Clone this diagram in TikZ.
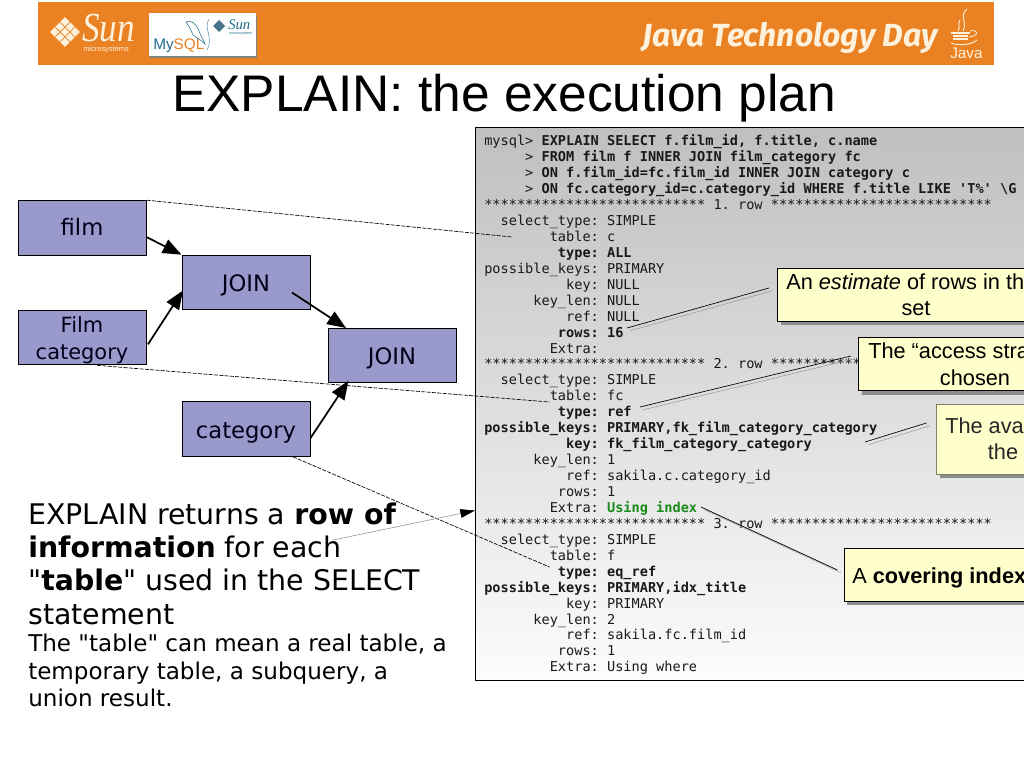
\documentclass[tikz,border=0pt]{standalone}
\usepackage{fontspec}
\setmainfont{DejaVu Sans}
\setmonofont{DejaVu Sans Mono}
\newfontfamily\arialfont{Liberation Sans}
\newfontfamily\timesfont{Liberation Serif}
\newfontfamily\bannerfont{Fira Sans}
\usetikzlibrary{arrows.meta,shadows}
\definecolor{bannerorange}{HTML}{EA8122}
\definecolor{bannercream}{HTML}{FDF1DC}
\definecolor{planblue}{HTML}{9999CC}
\definecolor{noteyellow}{HTML}{FFFFCC}
\definecolor{mysqlblue}{HTML}{1F6C8C}
\definecolor{usinggreen}{HTML}{1A8A1A}
\begin{document}
\begin{tikzpicture}[x=0.75pt, y=-0.75pt]
            \tikzstyle{plan box}=[rectangle,draw=black,fill=planblue,text=black!90!blue,line width=0.75pt,minimum width=96pt,minimum height=41pt,inner sep=0pt,font=\fontsize{17}{20}\selectfont,align=center,text height=13.5pt,text depth=0pt]
            \tikzstyle{plan arrow}=[line width=1.3pt,-{Triangle[length=14pt,width=11pt]}]
            \tikzstyle{map line}=[black,line width=0.5pt,dash pattern=on 3pt off 1pt]
            \tikzstyle{note box}=[rectangle,anchor=north west,draw=black,fill=noteyellow,line width=0.6pt,minimum width=225pt,inner sep=0pt,drop shadow={shadow xshift=2.6pt,shadow yshift=-3pt,fill=black!45,opacity=1}]
            \tikzstyle{note text}=[anchor=base west,inner sep=0pt,font=\arialfont\fontsize{16.3}{19}\selectfont]
            \tikzstyle{note line}=[black,line width=0.5pt,preaction={draw,black!40,transform canvas={xshift=2.6pt,yshift=-2pt}}]
            \tikzstyle{banner text}=[anchor=base west,inner sep=0pt,text=bannercream]

            \useasboundingbox (0,0) rectangle (1024,767);
            \clip (0,0) rectangle (1024,767);
            \fill[white] (0,0) rectangle (1024,767);

            % banner
            \fill[bannerorange] (38,2) rectangle (994,65);
            \begin{scope}[shift={(65,32)}, rotate=45]
                \fill[bannercream] (-10.5,-10.5) rectangle (10.5,10.5);
                \draw[bannerorange, line width=0.5pt] (-10.5,-3.5) -- (10.5,-3.5) (-10.5,3.5) -- (10.5,3.5) (-3.5,-10.5) -- (-3.5,10.5) (3.5,-10.5) -- (3.5,10.5);
            \end{scope}
            \node[banner text, font=\timesfont\itshape\fontsize{31}{31}\selectfont] (sunlogo) at (82,42) {\scalebox{0.85}[1]{Sun}};
            \node[banner text, font=\arialfont\fontsize{5.6}{7}\selectfont] (sunsmall) at (83,52) {microsystems};
            \node[rectangle, anchor=north west, fill=white, minimum width=80pt, minimum height=32pt, inner sep=0pt, drop shadow={shadow xshift=0.8pt,shadow yshift=-1.6pt,fill=black!50,opacity=1}] (mysqlcard) at (149,13) {};
            \node[anchor=base west, inner sep=0pt, font=\arialfont\fontsize{11.5}{12}\selectfont] (mysqlname) at (153,50) {\textcolor{mysqlblue}{My}\textcolor{bannerorange}{SQL}};
            \draw[mysqlblue, line width=0.4pt] (186,22) .. controls (190,19) and (197,24) .. (199,31) .. controls (201,37) and (204,40) .. (205,44) .. controls (201,40) and (197,38) .. (193,35) .. controls (191,31) and (190,27) .. (186,22);
            \draw[mysqlblue!70, line width=0.4pt] (209,19) .. controls (203,28) and (214,38) .. (207,50);
            \fill[mysqlblue!60!gray] (219,20) -- (225,26) -- (219,32) -- (213,26) -- cycle;
            \node[anchor=base west, inner sep=0pt, text=mysqlblue, font=\timesfont\itshape\fontsize{11}{12}\selectfont] (mysqlsun) at (228,30) {Sun};
            \node[anchor=base west, inner sep=0pt, text=mysqlblue, font=\arialfont\fontsize{2.8}{3}\selectfont] (mysqlsmall) at (229,35) {microsystems};
            \node[banner text, font=\bannerfont\bfseries\itshape\fontsize{24}{26}\selectfont] (javaday) at (642,47) {Java Technology Day};
            \draw[bannercream, line width=0.7pt] (967,9) .. controls (958,17) and (968,20) .. (963,31) (960,20) .. controls (957,24) and (961,27) .. (958,31);
            \draw[bannercream, line width=0.9pt] (951,33) -- (970,33) (953,36) -- (968,36) (953,39) -- (968,39);
            \draw[bannercream, line width=0.6pt] (970,31) .. controls (979,29) and (979,36) .. (969,37);
            \draw[bannercream, line width=0.7pt] (951,43) .. controls (958,46) and (972,45) .. (977,40);
            \node[banner text, font=\arialfont\fontsize{11.5}{12}\selectfont] (javaword) at (950,59) {Java};

            % title
            \node[anchor=base west, inner sep=0pt, font=\arialfont\fontsize{38.6}{40}\selectfont] (title) at (172,112) {EXPLAIN: the execution plan};

            % output of the query
            \node[rectangle, anchor=north west, draw=black, line width=0.75pt, top color=black!25, bottom color=black!1, minimum width=500pt, minimum height=415pt, inner sep=0pt] (panel) at (475,127) {};
            \node[anchor=north west, inner sep=0pt, align=left, text=black!90, font=\ttfamily\fontsize{10.2}{11.955}\selectfont] (output) at (484,134.5) {%
mysql> \textbf{EXPLAIN SELECT f.film\_id, f.title, c.name}\\
~~~~~> \textbf{FROM film f INNER JOIN film\_category fc}\\
~~~~~> \textbf{ON f.film\_id=fc.film\_id INNER JOIN category c}\\
~~~~~> \textbf{ON fc.category\_id=c.category\_id WHERE f.title LIKE 'T\%' \textbackslash G}\\
*************************** 1. row ***************************\\
~~select\_type: SIMPLE\\
~~~~~~~~table: c\\
~~~~~~~~~\textbf{type: ALL}\\
possible\_keys: PRIMARY\\
~~~~~~~~~~key: NULL\\
~~~~~~key\_len: NULL\\
~~~~~~~~~~ref: NULL\\
~~~~~~~~~\textbf{rows: 16}\\
~~~~~~~~Extra:\\
*************************** 2. row ***************************\\
~~select\_type: SIMPLE\\
~~~~~~~~table: fc\\
~~~~~~~~~\textbf{type: ref}\\
\textbf{possible\_keys: PRIMARY,fk\_film\_category\_category}\\
~~~~~~~~~~\textbf{key: fk\_film\_category\_category}\\
~~~~~~key\_len: 1\\
~~~~~~~~~~ref: sakila.c.category\_id\\
~~~~~~~~~rows: 1\\
~~~~~~~~Extra: \textcolor{usinggreen}{\textbf{Using index}}\\
*************************** 3. row ***************************\\
~~select\_type: SIMPLE\\
~~~~~~~~table: f\\
~~~~~~~~~\textbf{type: eq\_ref}\\
\textbf{possible\_keys: PRIMARY,idx\_title}\\
~~~~~~~~~~key: PRIMARY\\
~~~~~~key\_len: 2\\
~~~~~~~~~~ref: sakila.fc.film\_id\\
~~~~~~~~~rows: 1\\
~~~~~~~~Extra: Using where};

            % execution plan
            \node[plan box, text height=11pt] (film) at (82,228) {film};
            \node[plan box, text height=, text depth=, font=\fontsize{15.7}{20}\selectfont] (filmcat) at (82,337.5) {\rule{0pt}{16pt}Film\ \\category};
            \node[plan box] (category) at (246,429) {category};
            \node[plan box] (join1) at (246,282.5) {JOIN};
            \node[plan box] (join2) at (392,355.5) {JOIN};
            \draw[plan arrow] (film.-8) -- (join1.north west);
            \draw[plan arrow, shorten <=2pt, shorten >=-2pt] (filmcat.-8) -- (join1.189);
            \draw[plan arrow] ([shift={(46,10)}]join1.center) -- ([shift={(-46,-27.5)}]join2.center);
            \draw[plan arrow, shorten >=-2pt] (category.-8) -- ([shift={(-45,27.5)}]join2.center);

            % from plan to rows
            \coordinate (tableone) at (512,237);
            \coordinate (tabletwo) at (549.5,402);
            \coordinate (typethree) at (549.5,567);
            \draw[map line] (film.north east) -- (tableone);
            \draw[map line] ([shift={(15,0)}]filmcat.south) -- (tabletwo);
            \draw[map line] ([shift={(47,0)}]category.south) -- (typethree);

            % left text
            \node[anchor=north west, inner sep=0pt, align=left, font=\fontsize{21.3}{24.8}\selectfont] (explain) at (28,503) {EXPLAIN returns a \textbf{row of}\\\textbf{information} for each\\\textquotedbl\textbf{table}\textquotedbl{} used in the SELECT\\statement};
            \node[anchor=north west, inner sep=0pt, align=left, font=\fontsize{17.3}{20.6}\selectfont] (explainnote) at (28,634) {The \textquotedbl table\textquotedbl{} can mean a real table, a\\temporary table, a subquery, a\\union result.};
            \coordinate (foreach) at (333,540);
            \draw[black!45, line width=0.4pt, -{Triangle[black,length=11pt,width=6.5pt]}] (foreach) -- (panel.west |- 0,510.5);

            % notes over the output
            \node[note box, minimum height=39.4pt] (estimate) at (777,268) {};
            \node[note box, minimum height=40pt] (access) at (858,337) {};
            \node[note box, minimum height=52.5pt, draw=black!50!noteyellow] (available) at (936,404) {};
            \node[note box, minimum height=39.8pt] (covering) at (843.5,548) {};
            \node[note text] (estimateA) at (786,289) {An \textit{estimate} of rows in th};
            \node[note text, anchor=base] (estimateB) at (916,315) {set};
            \node[note text] (accessA) at (868,358) {The “access stra};
            \node[note text, anchor=base] (accessB) at (975,385) {chosen};
            \node[note text, text=black!85] (availableA) at (945,433) {The ava};
            \node[note text, anchor=base, text=black!85] (availableB) at (1003,459) {the};
            \node[note text] (coveringA) at (852,583) {A \textbf{covering index}};
            \coordinate (rowsmark) at (627,328);
            \coordinate (estimatemark) at (769,288);
            \coordinate (refmark) at (640,407);
            \coordinate (accessmark) at (851,356);
            \coordinate (keysmark) at (865,442);
            \coordinate (availablemark) at (926.5,423);
            \coordinate (indexmark) at (701,507);
            \coordinate (coveringmark) at (837.5,570);
            \draw[note line] (rowsmark) -- (estimatemark);
            \draw[note line] (refmark) -- (accessmark);
            \draw[note line] (keysmark) -- (availablemark);
            \draw[note line] (indexmark) -- (coveringmark);
        \end{tikzpicture}
\end{document}
